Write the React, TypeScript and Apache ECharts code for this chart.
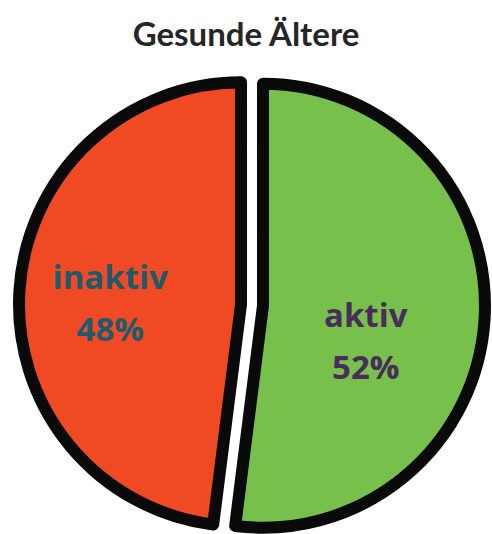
import React, { useEffect, useRef } from "react";
import * as echarts from "echarts";

const titleText = "Gesunde Ältere";
const categories = ["aktiv", "inaktiv"];
const values = [52, 48];

const sliceColors = ["#77c04b", "#ef4a24"];
const labelColors = ["#4a2c5c", "#1c5a6c"];
const labelShifts = [
  [-11, 28],
  [-17, 5],
];

export default function App() {
  const ref = useRef<HTMLDivElement>(null);
  useEffect(() => {
    if (!ref.current) return;
    const chart = echarts.init(ref.current, undefined, { renderer: "svg" });
    chart.setOption({
      animation: false,
      backgroundColor: "#ffffff",
      title: {
        text: titleText,
        left: "center",
        top: 11,
        textStyle: {
          fontFamily: "Lato",
          fontWeight: "bold",
          fontSize: 33,
          color: "#262626",
        },
      },
      series: [
        {
          type: "pie",
          center: [252, 305],
          radius: 222,
          startAngle: 90,
          clockwise: true,
          selectedMode: "multiple",
          selectedOffset: 11,
          emphasis: { disabled: true },
          itemStyle: { borderColor: "#0a0a0a", borderWidth: 12, borderJoin: "round" },
          label: {
            show: true,
            position: "inner",
            formatter: "{b}\n{c}%",
            fontFamily: "Open Sans",
            fontWeight: "bold",
            fontSize: 33,
            lineHeight: 52,
          },
          labelLayout: (p: any) => ({
            dx: labelShifts[p.dataIndex][0],
            dy: labelShifts[p.dataIndex][1],
          }),
          labelLine: { show: false },
          data: categories.map((name, i) => ({
            name,
            value: values[i],
            selected: true,
            itemStyle: { color: sliceColors[i] },
            label: { color: labelColors[i] },
          })),
        },
      ],
    });
    return () => chart.dispose();
  }, []);
  return (
    <div
      ref={ref}
      style={{ position: "absolute", left: 0, top: 0, width: 492, height: 534 }}
    />
  );
}
